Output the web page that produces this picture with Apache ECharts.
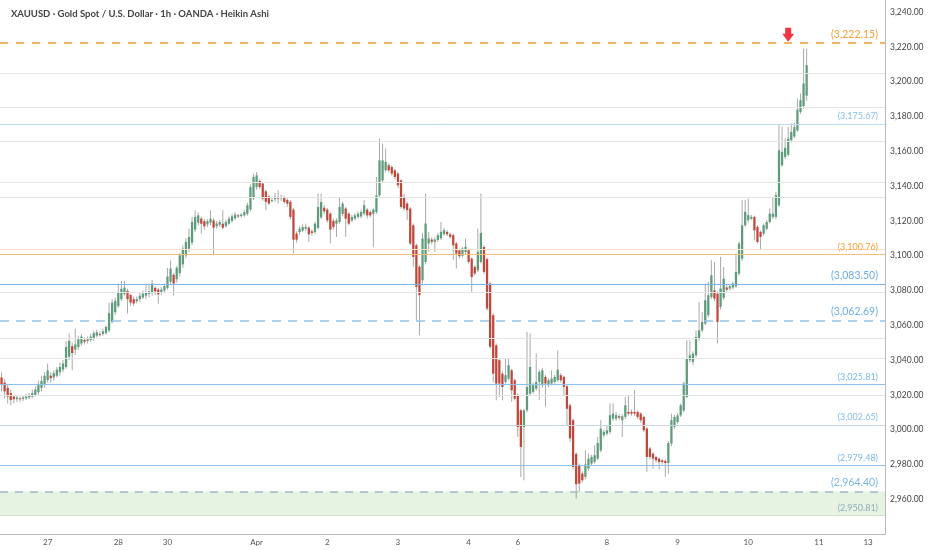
<!DOCTYPE html>
<html>
<head>
<meta charset="utf-8">
<title>XAUUSD 1h Heikin Ashi</title>
<script src="https://cdn.jsdelivr.net/npm/echarts@6/dist/echarts.min.js"></script>
<style>
  html, body { margin: 0; padding: 0; background: #fff; }
  #chart { width: 932px; height: 550px; }
</style>
</head>
<body>
<div id="chart"></div>
<script>
// ── 数据 ──

const TITLE = 'XAUUSD · Gold Spot / U.S. Dollar · 1h · OANDA · Heikin Ashi';
const slotCount = 288;   // hourly slots on the time axis, right side stays empty

const dayLabels = ['27', '28', '30', 'Apr', '2', '3', '4', '6', '8', '9', '10', '11', '13'];
const dayIndex  = [15, 38, 54, 83, 106, 129, 152, 168, 197, 220, 243, 266, 282];

// Heikin Ashi candles, one per hour: [open, close, low, high]
const candles = [
  [3030, 3026, 3022, 3033], [3027, 3022, 3018, 3029], [3024, 3019, 3015, 3026], [3021, 3017, 3014, 3023],
  [3019, 3017.5, 3015, 3020], [3017.5, 3018.5, 3016, 3020], [3018, 3017.5, 3016, 3019], [3017.7, 3018.5, 3016.5, 3019.5],
  [3018, 3019, 3017, 3020.5], [3018.5, 3019.5, 3017.5, 3021], [3019, 3021, 3018, 3023], [3020, 3023, 3019, 3025],
  [3021.5, 3026, 3020, 3028], [3024, 3028, 3022, 3031], [3026, 3031, 3024, 3033], [3028.5, 3034, 3027, 3038],
  [3031, 3029.5, 3027, 3033], [3030, 3032.5, 3028, 3034], [3031, 3034.5, 3030, 3036], [3033, 3036, 3031, 3038.5],
  [3034.5, 3038, 3033, 3040], [3036, 3047.5, 3035, 3051], [3042, 3051, 3040, 3055.2], [3048, 3044, 3034, 3050],
  [3046, 3049, 3043, 3058], [3047.5, 3052, 3046, 3054], [3049.5, 3053.5, 3048, 3055], [3051.5, 3050.5, 3049, 3053],
  [3051, 3052, 3049.5, 3053.5], [3051.5, 3053.5, 3050.5, 3055], [3052.5, 3055.5, 3051, 3057], [3054, 3056, 3053, 3057.5],
  [3055, 3054.5, 3053.5, 3056.5], [3055, 3056.5, 3054, 3058], [3055.5, 3059, 3054.5, 3060], [3057, 3067, 3056, 3073],
  [3062, 3073, 3061, 3075], [3067.5, 3074, 3066, 3076], [3071, 3079, 3070, 3083.9], [3075, 3081, 3074, 3085.5],
  [3078, 3081.6, 3077, 3085.5], [3079.8, 3075, 3066.7, 3081], [3077.4, 3073, 3071, 3078], [3075, 3072.5, 3071, 3076.5],
  [3073.8, 3075, 3072.5, 3076.5], [3075, 3077, 3073.5, 3078.5], [3076, 3078.2, 3075, 3080], [3077, 3079.1, 3075, 3084],
  [3078, 3079.5, 3076, 3084], [3078.5, 3084, 3077, 3086], [3081.5, 3079.5, 3077.5, 3082.5], [3080.5, 3077.8, 3072.4, 3081.5],
  [3079, 3080.5, 3077.5, 3082], [3080, 3082.5, 3079, 3084], [3081.5, 3088, 3080.5, 3093], [3085, 3092.5, 3083.5, 3097.3],
  [3089, 3084, 3077, 3090], [3086.5, 3093, 3084.5, 3094], [3090, 3100.2, 3088, 3101.5], [3095, 3104, 3093, 3106],
  [3100.2, 3107.9, 3098.5, 3110], [3104, 3110.8, 3102, 3115.6], [3107.5, 3119.4, 3106, 3122.3], [3115, 3122.3, 3113.5, 3126.1],
  [3119, 3123.2, 3117.5, 3125], [3121.3, 3118.4, 3112.7, 3122.5], [3119.8, 3116.9, 3115, 3121], [3118, 3119.8, 3116.5, 3121],
  [3119, 3121.3, 3117.5, 3126.1], [3120.3, 3116.1, 3100.2, 3121.5], [3117, 3118.5, 3115.5, 3120], [3117.8, 3119.4, 3116.5, 3120.5],
  [3118.4, 3116.1, 3115, 3126.1], [3117, 3119.4, 3116, 3120.5], [3118.4, 3121.3, 3117.5, 3122.5], [3120, 3122.6, 3119, 3124],
  [3121.5, 3123.6, 3120.5, 3125], [3123.2, 3122.6, 3121.5, 3124], [3122.8, 3123.6, 3121.8, 3124.5], [3123.2, 3125, 3122.3, 3126.5],
  [3124, 3129, 3123, 3130.5], [3126.5, 3139.5, 3125.5, 3141], [3133, 3145.3, 3132, 3147.2], [3139.5, 3146.2, 3138, 3148.1],
  [3143, 3139.5, 3138.5, 3144], [3141.5, 3132.8, 3131.5, 3142.5], [3137, 3131, 3126.1, 3138], [3134, 3130, 3129, 3135],
  [3131.5, 3132, 3130.5, 3133], [3132.5, 3133.8, 3131, 3136], [3133.5, 3132.8, 3130, 3137.6], [3133, 3133.8, 3131.5, 3135],
  [3133.2, 3130.9, 3129.9, 3134.5], [3132, 3129.9, 3128, 3133], [3131, 3122.3, 3121, 3132], [3126.5, 3109.2, 3101.2, 3127.5],
  [3112.7, 3109.2, 3107.5, 3114], [3113.6, 3115.5, 3112, 3117], [3114.5, 3116.5, 3113.5, 3118], [3115.5, 3116.5, 3114, 3118.4],
  [3116.1, 3112.3, 3107.9, 3117], [3114, 3113.1, 3111.5, 3115], [3113.5, 3118.4, 3112.5, 3119.5], [3116, 3128, 3115, 3135.7],
  [3122, 3130.9, 3121, 3135.7], [3127.6, 3125.5, 3124, 3129], [3126.5, 3120.3, 3119, 3127.5], [3124.2, 3115, 3107, 3125],
  [3120, 3116.5, 3115, 3121.3], [3118.4, 3120.3, 3110.8, 3121.5], [3119.4, 3128, 3118.5, 3133.8], [3124, 3129.9, 3122.6, 3131],
  [3127.1, 3121.3, 3110.8, 3128], [3124.2, 3118.4, 3117.5, 3125], [3120.3, 3122.3, 3119.3, 3123.5], [3121.3, 3123.2, 3120.3, 3124.5],
  [3122.3, 3124.2, 3121.3, 3125.5], [3122.6, 3125.1, 3121.5, 3126.5], [3124.2, 3129, 3123.2, 3131.9], [3126.5, 3123.2, 3121.3, 3127.5],
  [3125.1, 3123.2, 3122, 3126], [3124, 3126.5, 3105, 3127.5], [3125.1, 3134.7, 3124, 3145.3], [3134.7, 3154.8, 3133.5, 3167.3],
  [3143.3, 3154.8, 3142, 3164.4], [3149.1, 3153.9, 3148, 3161.6], [3152, 3149.1, 3148, 3153], [3151, 3147.2, 3146, 3152],
  [3149.1, 3145.3, 3144, 3150], [3147.2, 3140.5, 3139, 3148], [3143.3, 3128, 3127, 3144], [3133.8, 3127.1, 3126, 3135.5],
  [3130, 3126.2, 3120.4, 3131], [3127.1, 3107, 3106, 3128], [3117.5, 3099.3, 3093.6, 3118.5], [3106, 3082.1, 3062.9, 3107],
  [3093.6, 3077.3, 3054.3, 3094.5], [3085.9, 3109.9, 3084, 3113], [3096.4, 3118.5, 3095, 3135.7], [3107, 3109.9, 3102.2, 3113.7],
  [3109.3, 3108, 3106.5, 3110.5], [3108, 3109.3, 3102.2, 3110.5], [3109, 3111.8, 3108, 3113], [3110, 3113.7, 3109, 3119.4],
  [3112.3, 3114.7, 3111.5, 3116], [3113.7, 3112.3, 3111.3, 3114.7], [3112.3, 3110.8, 3109.8, 3113.3], [3111.8, 3106, 3097.4, 3112.8],
  [3107, 3101.2, 3092.6, 3108], [3103.1, 3099.7, 3098.5, 3104], [3100, 3104.1, 3099, 3105], [3102, 3105.1, 3101, 3109.9],
  [3103.1, 3096.4, 3095.5, 3104], [3098.3, 3087.8, 3079.2, 3099], [3093.6, 3089.7, 3088.5, 3094.5], [3091.6, 3102.2, 3090.5, 3115.6],
  [3096.4, 3113.1, 3095.5, 3135.7], [3105, 3090.7, 3089.5, 3106], [3098, 3069.6, 3068.5, 3099], [3084, 3047.6, 3046.5, 3085],
  [3065.8, 3032.2, 3027.4, 3067], [3048.5, 3026.5, 3016.9, 3049.5], [3039.9, 3026.5, 3018.8, 3041], [3032.2, 3024.5, 3016.9, 3033.5],
  [3027.4, 3031.3, 3026.5, 3040.8], [3029.3, 3037, 3028.3, 3040.8], [3034.1, 3022.6, 3015.9, 3035], [3028.4, 3017.8, 3016.8, 3029.3],
  [3019.8, 3001.5, 2995.8, 3020.8], [3011.1, 2990, 2972.8, 3012], [3001.5, 3011.1, 2970.9, 3012], [3011.1, 3024.5, 3010, 3056.2],
  [3020.7, 3036, 3019.7, 3055.2], [3021.7, 3025.5, 3020.7, 3027], [3023.6, 3027.4, 3022.5, 3043.7], [3027.4, 3033.2, 3016.9, 3034.5],
  [3025.5, 3034.1, 3024, 3035.5], [3030.3, 3026.5, 3013.1, 3031.5], [3025.5, 3028.4, 3024.5, 3029.5], [3026.5, 3029.3, 3025.5, 3034.1],
  [3027.4, 3030.3, 3026.5, 3031.5], [3028.4, 3034.5, 3027.5, 3045.6], [3031.3, 3028.4, 3027, 3032.5], [3030.3, 3024.6, 3019.8, 3031],
  [3024.9, 3012, 3002.5, 3026], [3014, 2995, 2993, 3015], [3005.4, 2978.6, 2977, 3006.5], [2986, 2968.6, 2960.3, 2987],
  [2979.5, 2969, 2964.2, 2980.5], [2974.7, 2970.9, 2969.5, 2976], [2972.8, 2980, 2971.5, 2988.1], [2977.6, 2983.3, 2976.5, 2986.2],
  [2980.5, 2984.3, 2979.5, 2985.5], [2981.4, 2985.3, 2980.5, 2991], [2983.3, 2992.3, 2982.5, 2995.8], [2988.1, 3000.6, 2987, 3005.4],
  [2996.8, 2998.7, 2995.5, 3000], [2997.7, 2999.6, 2996.5, 3002.5], [2998.7, 3008.3, 2997.5, 3015], [3006.3, 3009.2, 3005, 3015],
  [3006.3, 3008.3, 3005, 3010.2], [3007.7, 3006.9, 3005.5, 3009], [3005.4, 3007.7, 2995.8, 3009], [3007.3, 3014, 3006, 3018.8],
  [3010.2, 3009.2, 3008, 3019.8], [3010.2, 3009.2, 3008, 3011.5], [3010.2, 3009.2, 3008, 3022.7], [3010.2, 3007.3, 3006, 3011],
  [3009.2, 3005.4, 3004, 3010], [3007.3, 2999.6, 2998.5, 3008], [3000.6, 2984.3, 2975.7, 3001.5], [2989.1, 2984.3, 2983, 2990],
  [2986.2, 2983.3, 2977.6, 2987], [2984.3, 2982.4, 2981, 2985], [2983.3, 2981.4, 2977.1, 2984], [2982.4, 2981.4, 2980, 2983],
  [2982, 2980.8, 2972.8, 2983], [2980.8, 2992.3, 2974.7, 2993.5], [2992, 3005.4, 2990.5, 3009.2], [3001.6, 3007.3, 3000.5, 3008.5],
  [3004.4, 3008.2, 3003.5, 3009.5], [3008.2, 3014, 3007.3, 3015], [3011, 3026.5, 3010, 3027.5], [3018.8, 3040.8, 3018, 3051.4],
  [3039.9, 3042.7, 3038.5, 3051.4], [3038.9, 3043.7, 3037, 3045], [3042.7, 3053.3, 3041.5, 3057.1], [3052.3, 3057.1, 3051, 3073.4],
  [3057.1, 3061.9, 3056, 3067.7], [3061, 3074.4, 3060, 3084], [3065.8, 3077.3, 3064.5, 3084.9], [3076.3, 3088.8, 3075, 3097.4],
  [3080.1, 3075.3, 3074, 3096.4], [3078.2, 3061.9, 3049.5, 3079.5], [3070.5, 3081.1, 3069, 3099.3], [3075.8, 3086.8, 3074.5, 3093.5],
  [3081.7, 3080.5, 3079.5, 3083], [3081.1, 3082.4, 3080, 3083.5], [3081.7, 3084, 3080.5, 3085], [3082.4, 3090.7, 3081.5, 3101.2],
  [3089.7, 3107, 3088.5, 3108], [3098.3, 3117.5, 3097, 3131.9], [3117.5, 3125.2, 3116.5, 3131.9], [3120.4, 3123.3, 3119, 3132.8],
  [3121.3, 3122.3, 3120.4, 3123.5], [3122.3, 3114.6, 3108.9, 3123], [3116.6, 3107.9, 3107, 3117.5], [3113.7, 3110.8, 3103.1, 3114.5],
  [3112.7, 3117.5, 3111.5, 3118.5], [3115.5, 3119.4, 3114.5, 3120.5], [3119.4, 3124.2, 3118.5, 3127.1], [3122.3, 3124.2, 3121, 3133.8],
  [3122.3, 3134.8, 3121, 3136.7], [3129, 3160.6, 3128, 3175], [3152, 3159.7, 3151, 3174.1], [3156.8, 3162, 3155.5, 3167.5],
  [3158, 3167.3, 3157, 3174.1], [3166.4, 3171.2, 3165, 3176], [3168.5, 3174, 3167.5, 3176.5], [3172, 3184, 3171, 3190.4],
  [3182.7, 3189.4, 3181.5, 3193.2], [3186, 3199, 3184.5, 3219], [3192, 3209.5, 3189, 3219.1]
];

// 水平位 (drawn levels)
const keyLevels  = [3222.15, 3175.67, 3100.76, 3083.50, 3062.69, 3025.81, 3002.65, 2979.48, 2964.40, 2950.81];
const greyLevels = [3204.7, 3185.6, 3166.0, 3142.5, 3133.8, 3079.0, 3052.5, 3041.0, 3019.7];
const faintOrangeLevel = 3103.7;
const demandZone = [2950.81, 2964.40];
const arrowPoint = [256, 3227];

// ── 样式 ──

const UP = '#5f9c7c';
const DOWN = '#c1473b';
const WICK = 'rgba(140,140,140,0.75)';

const LOOK = {
  orangeDash: { line: '#f2a33a', text: '#f0a035', type: [8, 8], width: 1.6, size: 10.5 },
  paleBlue:   { line: '#bcdcf4', text: '#86bce8', type: 'solid', width: 1, size: 9 },
  orange:     { line: '#f6bd78', text: '#f0a035', type: 'solid', width: 1, size: 9 },
  blue:       { line: '#7db5e6', text: '#6fade6', type: 'solid', width: 1.2, size: 10.5 },
  blueDash:   { line: '#92c3ec', text: '#6fade6', type: [9, 7], width: 1.5, size: 10.5 },
  blueThin:   { line: '#8fc0ea', text: '#7ab6e8', type: 'solid', width: 1, size: 9 },
  steel:      { line: '#c9d6e0', text: '#86bce8', type: 'solid', width: 1, size: 9 },
  steelDash:  { line: '#a3b8c8', text: '#7ab6e8', type: [8, 7], width: 1.5, size: 10.5 },
  zoneEdge:   { line: '#cfe2cc', text: '#8fb0b8', type: 'solid', width: 1, size: 9 }
};
const levelLook = ['orangeDash', 'paleBlue', 'orange', 'blue', 'blueDash', 'blueThin', 'steel', 'blueThin', 'steelDash', 'zoneEdge'];

function fmt(v) {
  return v.toLocaleString('en-US', { minimumFractionDigits: 2, maximumFractionDigits: 2 });
}

const labelAt = {};
dayIndex.forEach((idx, k) => { labelAt[idx] = dayLabels[k]; });
const slots = [];
for (let i = 0; i < slotCount; i++) slots.push(String(i));

function renderCandle(params, api) {
  const i = api.value(0);
  const o = api.coord([i, api.value(1)]);
  const c = api.coord([i, api.value(2)]);
  const lo = api.coord([i, api.value(3)]);
  const hi = api.coord([i, api.value(4)]);
  const w = api.size([1, 0])[0] * 0.74;
  const up = api.value(2) >= api.value(1);
  const top = Math.min(o[1], c[1]);
  const h = Math.max(Math.abs(o[1] - c[1]), 1);
  return {
    type: 'group',
    children: [
      { type: 'line', shape: { x1: hi[0], y1: hi[1], x2: lo[0], y2: lo[1] }, style: { stroke: WICK, lineWidth: 1 } },
      { type: 'rect', shape: { x: o[0] - w / 2, y: top, width: w, height: h }, style: { fill: up ? UP : DOWN } }
    ]
  };
}

const markLines = [];
greyLevels.forEach(v => markLines.push({
  yAxis: v, lineStyle: { color: '#e5e5e5', width: 1, type: 'solid' }, label: { show: false }
}));
markLines.push({ yAxis: faintOrangeLevel, lineStyle: { color: '#fbe3c8', width: 1, type: 'solid' }, label: { show: false } });
keyLevels.forEach((v, k) => {
  const s = LOOK[levelLook[k]];
  markLines.push({
    yAxis: v,
    lineStyle: { color: s.line, width: s.width, type: s.type },
    label: {
      show: true, position: 'insideEndTop', distance: [7, 3],
      formatter: '(' + fmt(v) + ')', color: s.text, fontSize: s.size, fontFamily: 'Lato'
    }
  });
});

// ── 图表 ──

const chart = echarts.init(document.getElementById('chart'));
chart.setOption({
  animation: false,
  backgroundColor: '#fff',
  title: {
    text: TITLE, left: 6, top: 4,
    textStyle: { fontSize: 9.5, fontWeight: 'bold', color: '#444', fontFamily: 'Lato' }
  },
  grid: { left: 0, right: 47, top: 0, bottom: 16 },
  xAxis: {
    type: 'category',
    data: slots,
    boundaryGap: true,
    axisLine: { lineStyle: { color: '#b8b8b8' } },
    axisTick: { show: false },
    splitLine: { show: false },
    axisLabel: {
      interval: idx => labelAt[idx] !== undefined,
      formatter: (v, idx) => labelAt[idx] || '',
      color: '#555', fontSize: 8, margin: 4, fontFamily: 'Lato'
    }
  },
  yAxis: {
    type: 'value',
    position: 'right',
    min: 2940, max: 3247, interval: 20,
    axisLine: { show: true, lineStyle: { color: '#b8b8b8' } },
    axisTick: { show: false },
    splitLine: { show: false },
    axisLabel: {
      color: '#444', fontSize: 8.5, margin: 5, fontFamily: 'Lato',
      formatter: v => (v % 20 === 0 && v > 2940) ? fmt(v) : ''
    }
  },
  series: [{
    type: 'custom',
    renderItem: renderCandle,
    encode: { x: 0, y: [1, 2, 3, 4] },
    data: candles.map((c, i) => [i].concat(c)),
    clip: true,
    markArea: {
      silent: true,
      itemStyle: { color: '#e6f2e2' },
      data: [[{ yAxis: demandZone[0] }, { yAxis: demandZone[1] }]]
    },
    markLine: {
      silent: true,
      symbol: 'none',
      animation: false,
      data: markLines
    },
    markPoint: {
      silent: true,
      symbol: 'path://M3,0 L9,0 L9,6 L12,6 L6,14 L0,6 L3,6 Z',
      symbolSize: [12, 14],
      itemStyle: { color: '#f23645' },
      label: { show: false },
      data: [{ coord: arrowPoint }]
    }
  }]
});

window.addEventListener('resize', () => chart.resize());
</script>
</body>
</html>
